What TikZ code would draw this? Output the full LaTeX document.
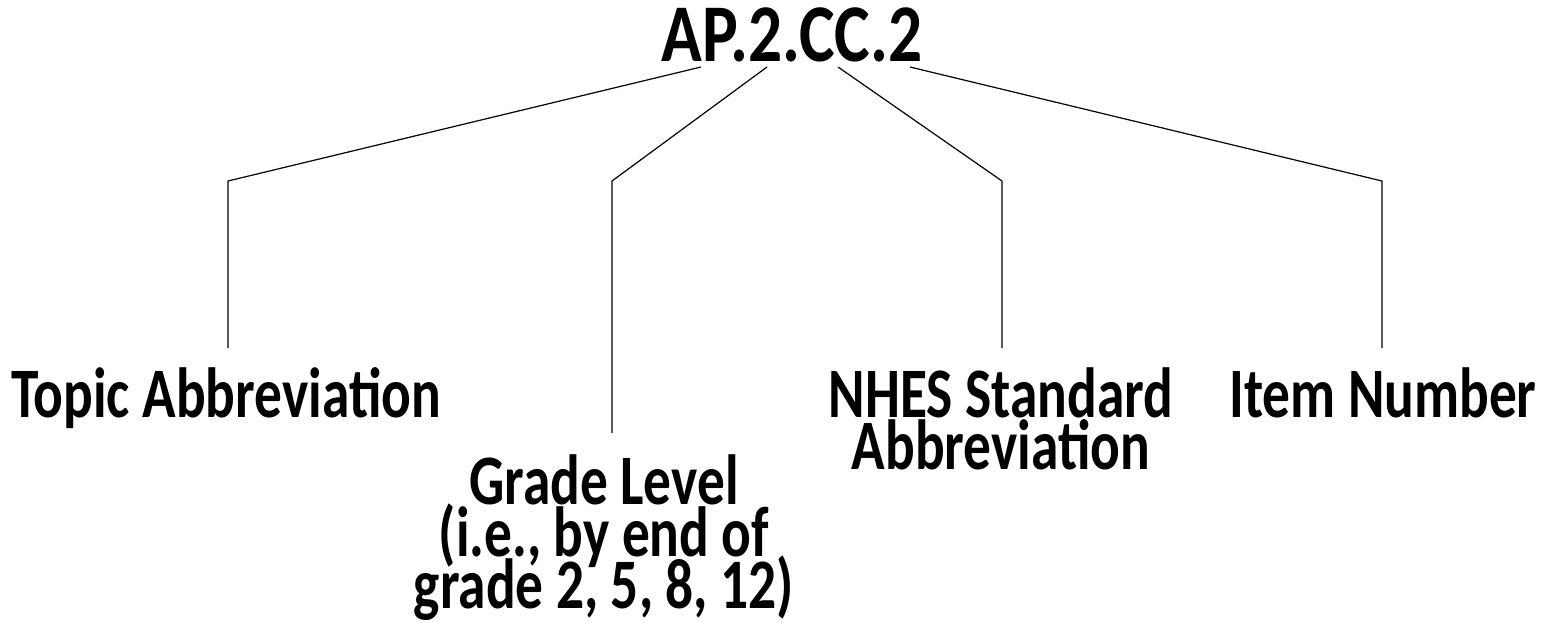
\documentclass[tikz,border=0pt]{standalone}
\usepackage{fontspec}
\setmainfont{Carlito}
\usepackage{graphicx}
\usetikzlibrary{calc}
\newcommand{\sq}[1]{\scalebox{0.78}[1]{#1}}
\newcommand{\sqt}[1]{\scalebox{0.82}[1]{#1}}
\newcommand{\lblfont}{\fontsize{71}{52}\selectfont\bfseries\setlength{\lineskiplimit}{-200pt}\setlength{\lineskip}{0pt}}
\begin{document}
\begin{tikzpicture}[x=1pt,y=-1pt,
  lbl/.style={font=\lblfont, inner sep=0pt, align=center, anchor=base},
  ttl/.style={font=\fontsize{82}{90}\selectfont\bfseries, inner sep=0pt, anchor=base},
  conn/.style={line width=1.2pt, line join=miter}]
\useasboundingbox (0,0) rectangle (1549,623);
\node[ttl] (title) at (792,62) {\sqt{AP.2.CC.2}};
\node[lbl] (topic) at (226,417) {\sq{Topic Abbreviation}};
\node[lbl] (grade) at (604,608) {\sq{Grade Level}\\\sq{(i.e., by end of}\\\sq{grade 2, 5, 8, 12)}};
\node[lbl] (nhes) at (1001,469) {\sq{NHES Standard}\\\sq{Abbreviation}};
\node[lbl] (item) at (1383,417) {\sq{Item Number}};
\coordinate (s1) at ($(title.base)+(-91,5)$);
\coordinate (s2) at ($(title.base)+(-25,5)$);
\coordinate (s3) at ($(title.base)+(46,5)$);
\coordinate (s4) at ($(title.base)+(118,5)$);
\coordinate (c1) at (228,181);
\coordinate (c2) at (612,181);
\coordinate (c3) at (1002,181);
\coordinate (c4) at (1382,181);
\draw[conn] (s1) -- (c1) -- ([yshift=69pt]c1 |- topic.base);
\draw[conn] (s2) -- (c2) -- ([yshift=175pt]c2 |- grade.base);
\draw[conn] (s3) -- (c3) -- ([yshift=121pt]c3 |- nhes.base);
\draw[conn] (s4) -- (c4) -- ([yshift=69pt]c4 |- item.base);
\end{tikzpicture}
\end{document}
